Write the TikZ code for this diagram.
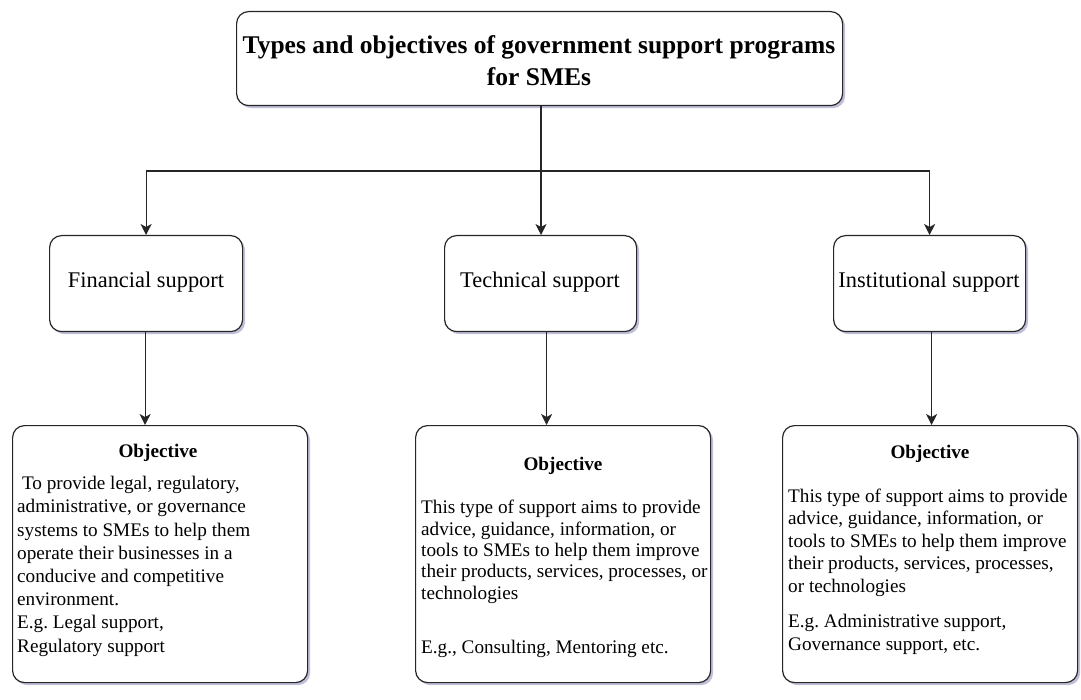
\documentclass[tikz,border=0pt]{standalone}
\usepackage{fontspec}
\setmainfont{Liberation Serif}
\usetikzlibrary{arrows.meta,shadows}
\frenchspacing
\begin{document}
\begin{tikzpicture}[x=1pt,y=-1pt,
  box/.style={draw=black!85, line width=1.2pt, rounded corners=12pt, fill=white, anchor=north west, inner sep=0pt,
    drop shadow={shadow xshift=2.5pt, shadow yshift=-2.5pt, opacity=0.25, fill=black!60!blue}},
  conn/.style={draw=black!85, line width=1.2pt},
  arr/.style={conn, -{Stealth[length=11pt,width=11pt,inset=3pt]}},
  midtxt/.style={font=\fontsize{22.4}{26}\selectfont},
  head/.style={font=\fontsize{19.2}{22}\selectfont\bfseries, anchor=base},
  body/.style={align=left, anchor=base west, inner sep=0pt},
]
\useasboundingbox (0,0) rectangle (1081,700);
% title
\node[box, minimum width=606pt, minimum height=94pt] (title) at (236,11) {};
\node[font=\fontsize{25.5}{32}\selectfont\bfseries, align=center] (titletxt) at (539,61)
  {Types and objectives of government support programs\\for SMEs};
% middle boxes
\node[box, minimum width=193pt, minimum height=96pt] (fin) at (49,235) {};
\node[box, minimum width=192pt, minimum height=96pt] (tech) at (444,235) {};
\node[box, minimum width=192pt, minimum height=96pt] (inst) at (833,235) {};
\node[midtxt] (fintxt) at (146,282) {Financial support};
\node[midtxt] (techtxt) at (540,282) {Technical support};
\node[midtxt] (insttxt) at (929,282) {Institutional support};
% bottom boxes
\node[box, minimum width=295pt, minimum height=257pt] (finobj) at (12,425) {};
\node[box, minimum width=295pt, minimum height=257pt] (techobj) at (415,425) {};
\node[box, minimum width=295pt, minimum height=257pt] (instobj) at (782,425) {};
\node[head] (finh) at (158,457) {Objective};
\node[head] (techh) at (563,470) {Objective};
\node[head] (insth) at (930,458) {Objective};
% body texts: anchor base west = baseline of the LAST line
\node[body, font=\fontsize{19.2}{23.2}\selectfont] (finb) at (17,652)
  {\ To provide legal, regulatory,\\administrative, or governance\\systems to SMEs to help them\\operate their businesses in a\\conducive and competitive\\environment.\\E.g. Legal support,\\Regulatory support};
\node[body, font=\fontsize{19.2}{21.3}\selectfont] (techb) at (421,599)
  {This type of support aims to provide\\advice, guidance, information, or\\tools to SMEs to help them improve\\their products, services, processes, or\\technologies};
\node[body, font=\fontsize{19.2}{21.3}\selectfont] (teche) at (421,653)
  {E.g., Consulting, Mentoring etc.};
\node[body, font=\fontsize{19.2}{22.5}\selectfont] (instb) at (788,592)
  {This type of support aims to provide\\advice, guidance, information, or\\tools to SMEs to help them improve\\their products, services, processes,\\or technologies};
\node[body, font=\fontsize{19.2}{23}\selectfont] (inste) at (788,650)
  {E.g. Administrative support,\\Governance support, etc.};
% connectors
\coordinate (j) at (541,171);
\draw[conn] (j |- title.south) -- (j);
\draw[arr] (j) -| (fin.north);
\draw[arr] (j) -- (j |- tech.north);
\draw[arr] (j) -| (inst.north);
\draw[arr] ([xshift=-1pt]fin.south) -- ([xshift=-1pt]fin.south |- finobj.north);
\draw[arr] ([xshift=6pt]tech.south) -- ([xshift=6pt]tech.south |- techobj.north);
\draw[arr] ([xshift=2pt]inst.south) -- ([xshift=2pt]inst.south |- instobj.north);
\end{tikzpicture}
\end{document}
